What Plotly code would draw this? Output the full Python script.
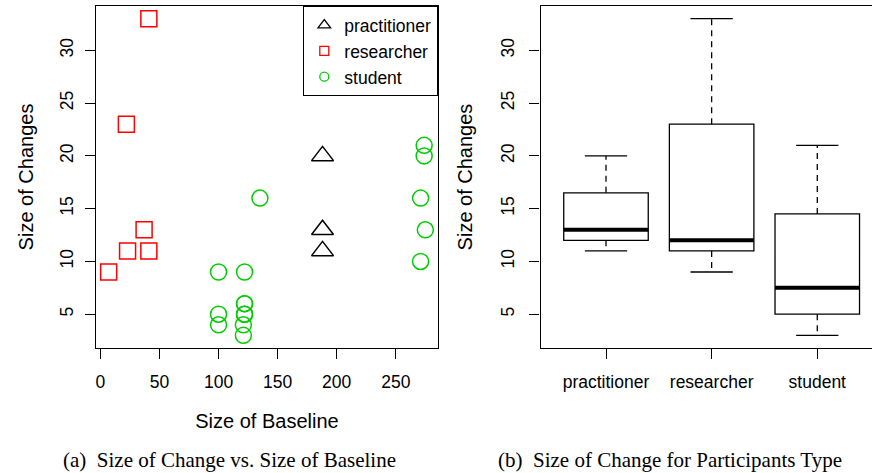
import numpy as np
import plotly.graph_objects as go

# ---------------- data ----------------
groups = ["practitioner", "researcher", "student"]

practitioner_baseline = [188, 188, 188]
practitioner_changes = [20, 13, 11]

researcher_baseline = [41, 22, 37, 23, 41, 7]
researcher_changes = [33, 23, 13, 11, 11, 9]

student_baseline = [274, 274, 135, 271, 275, 271, 100, 122, 122, 122, 100, 122, 122, 100, 121, 121]
student_changes = [21, 20, 16, 16, 13, 10, 9, 9, 6, 6, 5, 5, 5, 4, 4, 3]

x_ticks = [0, 50, 100, 150, 200, 250]
y_ticks = [5, 10, 15, 20, 25, 30]

# ---------------- helpers ----------------
def fivenum(v):
    s = sorted(v)
    n = len(s)
    n4 = np.floor((n + 3) / 2) / 2
    d = [1, n4, (n + 1) / 2, n + 1 - n4, n]
    return [0.5 * (s[int(np.floor(i)) - 1] + s[int(np.ceil(i)) - 1]) for i in d]


def r_range(vals):
    lo, hi = min(vals), max(vals)
    ext = 0.04 * (hi - lo)
    return [lo - ext, hi + ext]


W, H = 872, 473
ML, MR, MT, MB = 96, 0, 6, 125
PW = W - ML - MR

BLACK = "black"
RED = "#FF0000"
GREEN = "#00CD00"
TICKFONT = dict(family="Liberation Sans, Arial, Helvetica", size=17.5, color="black")
TITLEFONT = dict(family="Liberation Sans, Arial, Helvetica", size=20, color="black")

fig = go.Figure()

# ---------------- panel (a): scatter ----------------
series = [
    ("practitioner", practitioner_baseline, practitioner_changes, "triangle-up-open", BLACK, 19, 11),
    ("researcher", researcher_baseline, researcher_changes, "square-open", RED, 16, 9),
    ("student", student_baseline, student_changes, "circle-open", GREEN, 16, 9),
]
for name, xs, ys, sym, col, sz, lsz in series:
    fig.add_trace(go.Scatter(
        x=xs, y=ys, mode="markers", name=name, showlegend=False,
        marker=dict(symbol=sym, size=sz, color=col, line=dict(color=col, width=1.5)),
        xaxis="x", yaxis="y"))
# legend entries (smaller symbols, like R's legend)
for name, xs, ys, sym, col, sz, lsz in series:
    fig.add_trace(go.Scatter(
        x=[None], y=[None], mode="markers", name=name, showlegend=True,
        marker=dict(symbol=sym, size=lsz, color=col, line=dict(color=col, width=1.3)),
        xaxis="x", yaxis="y"))

all_x = practitioner_baseline + researcher_baseline + student_baseline
all_y = practitioner_changes + researcher_changes + student_changes

# ---------------- panel (b): boxplots ----------------
group_vals = [practitioner_changes, researcher_changes, student_changes]
positions = [1, 2, 3]
for pos, name, vals in zip(positions, groups, group_vals):
    mn, q1, med, q3, mx = fivenum(vals)
    iqr = q3 - q1
    lo = min(v for v in vals if v >= q1 - 1.5 * iqr)
    hi = max(v for v in vals if v <= q3 + 1.5 * iqr)
    fig.add_trace(go.Box(
        x=[pos], q1=[q1], median=[med], q3=[q3], lowerfence=[q1], upperfence=[q3],
        orientation="v", width=0.8, whiskerwidth=0, boxpoints=False,
        line=dict(color=BLACK, width=1.3), fillcolor="rgba(255,255,255,0)",
        name=name, showlegend=False, xaxis="x2", yaxis="y2"))
    # dashed whiskers
    fig.add_trace(go.Scatter(
        x=[pos, pos, None, pos, pos], y=[q3, hi, None, q1, lo], mode="lines",
        line=dict(color=BLACK, width=1.3, dash="6px,5px"), showlegend=False,
        hoverinfo="skip", xaxis="x2", yaxis="y2"))
    # staples
    fig.add_trace(go.Scatter(
        x=[pos - 0.2, pos + 0.2, None, pos - 0.2, pos + 0.2], y=[hi, hi, None, lo, lo],
        mode="lines", line=dict(color=BLACK, width=1.3), showlegend=False,
        hoverinfo="skip", xaxis="x2", yaxis="y2"))
    # thick median
    fig.add_trace(go.Scatter(
        x=[pos - 0.4, pos + 0.4], y=[med, med], mode="lines",
        line=dict(color=BLACK, width=4), showlegend=False,
        hoverinfo="skip", xaxis="x2", yaxis="y2"))

# ---------------- layout ----------------
axis_common = dict(
    showline=True, linecolor=BLACK, linewidth=1.3, showgrid=False, zeroline=False,
    ticks="outside", ticklen=10, tickwidth=1.3, tickcolor=BLACK, tickfont=TICKFONT,
)
yr = r_range(all_y)
cap_y = -(460 - (H - MB)) / (H - MT - MB)

fig.update_layout(
    width=W, height=H,
    margin=dict(l=ML, r=MR, t=MT, b=MB, autoexpand=False),
    plot_bgcolor="white", paper_bgcolor="white",
    font=TICKFONT,
    xaxis=dict(domain=[0, (438 - ML) / PW], range=r_range(all_x), tickvals=x_ticks,
               mirror=True, ticklabelstandoff=8,
               title=dict(text="Size of Baseline", font=TITLEFONT, standoff=22),
               **axis_common),
    yaxis=dict(domain=[0, 1], range=yr, tickvals=y_ticks, tickangle=-90, anchor="x",
               mirror=True, ticklabelstandoff=5,
               title=dict(text="Size of Changes", font=TITLEFONT, standoff=17),
               **axis_common),
    xaxis2=dict(domain=[(540.5 - ML) / PW, 1], range=[0.38, 3.518], tickvals=positions,
                ticktext=groups, anchor="y2", mirror=True, ticklabelstandoff=8,
                **axis_common),
    yaxis2=dict(domain=[0, 1], range=yr, tickvals=y_ticks, tickangle=-90, anchor="x2",
                mirror=False, ticklabelstandoff=8,
                title=dict(text="Size of Changes", font=TITLEFONT, standoff=20),
                **axis_common),
    legend=dict(x=(438 - ML) / PW, xanchor="right", y=1, yanchor="top",
                bordercolor=BLACK, borderwidth=1.3, bgcolor="white",
                font=TICKFONT, tracegroupgap=0, itemwidth=30),
    annotations=[
        dict(text="(a)  Size of Change vs. Size of Baseline", xref="paper", yref="paper",
             x=(229 - ML) / PW, y=cap_y, xanchor="center", yanchor="middle",
             showarrow=False, font=dict(family="Liberation Serif, Times New Roman", size=21, color="black")),
        dict(text="(b)  Size of Change for Participants Type", xref="paper", yref="paper",
             x=(670 - ML) / PW, y=cap_y, xanchor="center", yanchor="middle",
             showarrow=False, font=dict(family="Liberation Serif, Times New Roman", size=21, color="black")),
    ],
)

fig.write_html("out.html", config={"displayModeBar": False},
               post_script="document.body.style.margin='0px';")
